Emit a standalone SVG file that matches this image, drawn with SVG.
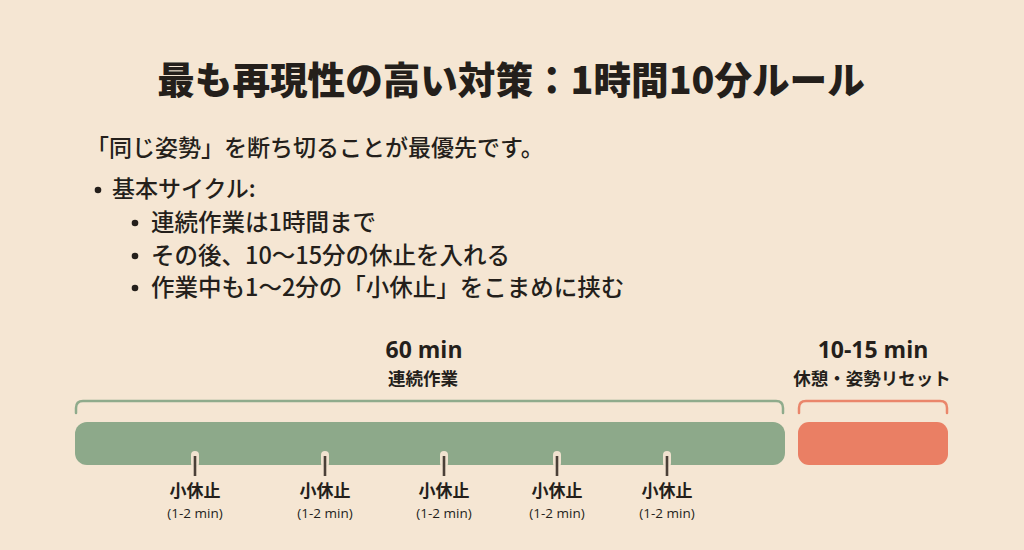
<svg xmlns="http://www.w3.org/2000/svg" width="1024" height="550" viewBox="0 0 1024 550">
<style>
text{font-family:"Noto Sans CJK JP","Noto Sans",sans-serif;fill:#241f1b}
.title{font-size:37.6px;font-weight:900}
.body{font-size:23px;font-weight:500}
.sub{font-size:23.5px;font-weight:500}
.big{font-family:"Open Sans","Noto Sans",sans-serif;font-size:23px;font-weight:700}
.lab{font-size:17.5px;font-weight:700}
.brk{font-size:17px;font-weight:700}
.sm{font-family:"Open Sans","Noto Sans",sans-serif;font-size:13.5px}
.brg{fill:none;stroke:#8fab8c;stroke-width:2.5;stroke-linecap:round}
.bro{fill:none;stroke:#ea866b;stroke-width:2.5;stroke-linecap:round}
.halo{stroke:#f0e2cf;stroke-width:8;stroke-linecap:round}
.tick{stroke:#4a4038;stroke-width:2.6}
</style>
<rect width="1024" height="550" fill="#f5e6d3"/>
<g id="title"><text class="title" x="511" y="94" text-anchor="middle">最も再現性の高い対策：1時間10分ルール</text></g>
<g id="text">
<text class="body" x="86" y="156">「同じ姿勢」を断ち切ることが最優先です。</text>
<circle cx="98" cy="190" r="3.3" fill="#241f1b"/>
<text class="body" x="112" y="197">基本サイクル:</text>
<circle cx="135" cy="223" r="3.3" fill="#241f1b"/>
<text class="sub" x="151" y="231">連続作業は1時間まで</text>
<circle cx="135" cy="256" r="3.3" fill="#241f1b"/>
<text class="sub" x="151" y="264">その後、10〜15分の休止を入れる</text>
<circle cx="135" cy="288" r="3.3" fill="#241f1b"/>
<text class="sub" x="151" y="296">作業中も1〜2分の「小休止」をこまめに挟む</text>
</g>
<g id="work">
<text class="big" x="424" y="358" text-anchor="middle">60 min</text>
<text class="lab" x="423" y="385" text-anchor="middle">連続作業</text>
<rect x="75" y="422" width="710" height="43" rx="12" fill="#8da98a"/>
</g>
<g id="rest">
<text class="big" x="873" y="358" text-anchor="middle">10-15 min</text>
<text class="lab" x="872" y="385" text-anchor="middle">休憩・姿勢リセット</text>
<rect x="798" y="422" width="150" height="43" rx="11" fill="#ea7f64"/>
</g>
<g id="connectors">
<path class="brg" d="M76 413 V408 Q76 401 83 401 H776 Q783 401 783 408 V413"/>
<path class="bro" d="M799 413 V408 Q799 401 806 401 H940 Q947 401 947 408 V413"/>
<g>
<line class="halo" x1="195" y1="455" x2="195" y2="463"/>
<line class="halo" x1="325" y1="455" x2="325" y2="463"/>
<line class="halo" x1="444" y1="455" x2="444" y2="463"/>
<line class="halo" x1="557" y1="455" x2="557" y2="463"/>
<line class="halo" x1="667" y1="455" x2="667" y2="463"/>
<line class="tick" x1="195" y1="456" x2="195" y2="476"/>
<line class="tick" x1="325" y1="456" x2="325" y2="476"/>
<line class="tick" x1="444" y1="456" x2="444" y2="476"/>
<line class="tick" x1="557" y1="456" x2="557" y2="476"/>
<line class="tick" x1="667" y1="456" x2="667" y2="476"/>
</g>
</g>
<g id="breaks">
<text class="brk" x="195" y="497" text-anchor="middle">小休止</text>
<text class="sm" x="195" y="518" text-anchor="middle">(1-2 min)</text>
<text class="brk" x="325" y="497" text-anchor="middle">小休止</text>
<text class="sm" x="325" y="518" text-anchor="middle">(1-2 min)</text>
<text class="brk" x="444" y="497" text-anchor="middle">小休止</text>
<text class="sm" x="444" y="518" text-anchor="middle">(1-2 min)</text>
<text class="brk" x="557" y="497" text-anchor="middle">小休止</text>
<text class="sm" x="557" y="518" text-anchor="middle">(1-2 min)</text>
<text class="brk" x="667" y="497" text-anchor="middle">小休止</text>
<text class="sm" x="667" y="518" text-anchor="middle">(1-2 min)</text>
</g>
</svg>
